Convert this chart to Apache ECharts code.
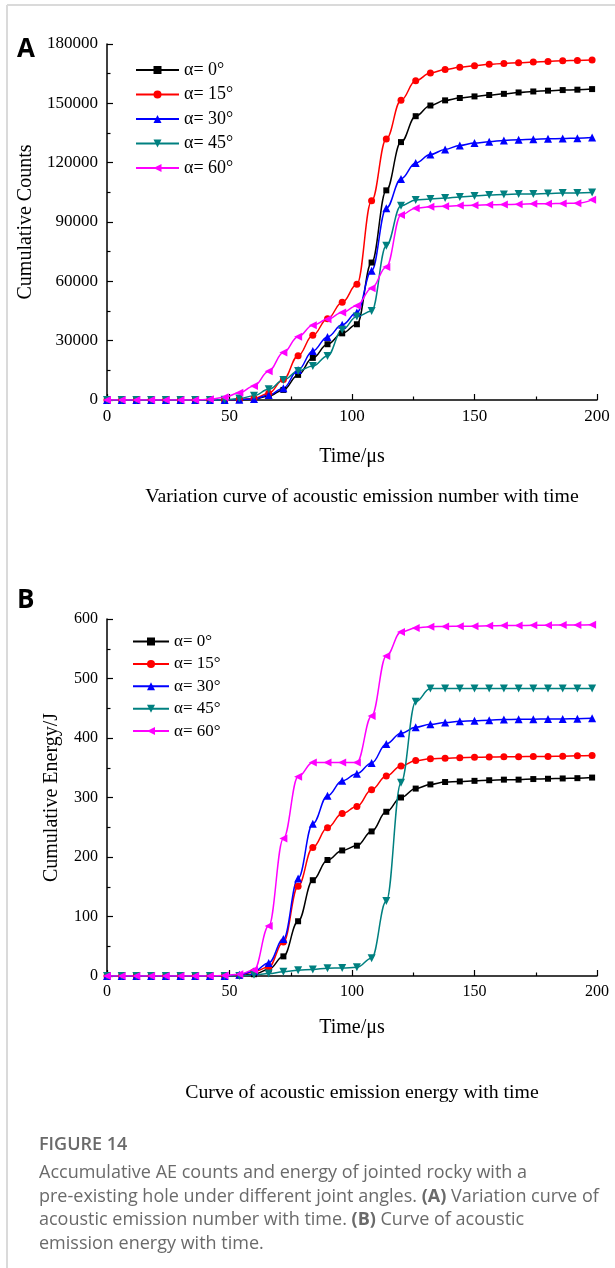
<!DOCTYPE html>
<html>
<head>
<meta charset="utf-8">
<script src="https://cdn.jsdelivr.net/npm/echarts@6/dist/echarts.min.js"></script>
<style>
  * { margin: 0; padding: 0; }
  body { background: #fff; }
  #chart { width: 615px; height: 1268px; }
</style>
</head>
<body>
<div id="chart"></div>
<script>
// sample times (μs), one marker every 6 μs
const times = [0, 6, 12, 18, 24, 30, 36, 42, 48, 54, 60, 66, 72, 78, 84, 90, 96,
  102, 108, 114, 120, 126, 132, 138, 144, 150, 156, 162, 168, 174, 180, 186, 192, 198];

const angleNames = ['α= 0°', 'α= 15°', 'α= 30°', 'α= 45°', 'α= 60°'];

// (A) cumulative counts
const counts0 = [0, 0, 0, 0, 0, 0, 0, 0, 0, 150, 400, 2000, 5100, 12700, 21300, 28200, 33700,
  38300, 69500, 106000, 130400, 143500, 148900, 151500, 152700, 153500, 154200, 154800, 155500, 156000, 156400, 156700, 156900, 157200];
const counts15 = [0, 0, 0, 0, 0, 0, 0, 0, 0, 200, 800, 3400, 10400, 22400, 32700, 41100, 49400,
  58500, 100700, 132000, 151600, 161400, 165300, 167100, 168200, 169000, 169700, 170200, 170500, 170900, 171200, 171500, 171700, 171900];
const counts30 = [0, 0, 0, 0, 0, 0, 0, 0, 0, 150, 500, 2500, 6000, 15200, 24800, 31900, 38000,
  44200, 65400, 97000, 111800, 119800, 124100, 126700, 128700, 129900, 130600, 131200, 131600, 131900, 132100, 132200, 132400, 132700];
const counts45 = [0, 0, 0, 0, 0, 0, 0, 0, 100, 700, 2200, 5400, 10100, 14700, 17200, 22300, 35500,
  42200, 45000, 78000, 98200, 101100, 101600, 102100, 102700, 103200, 103600, 103900, 104100, 104200, 104400, 104600, 104700, 104900];
const counts60 = [0, 0, 0, 0, 0, 0, 0, 350, 1350, 3700, 7100, 14500, 24000, 32000, 37800, 40800, 44200,
  47700, 56500, 67300, 93600, 97000, 97700, 98000, 98300, 98500, 98700, 98800, 99000, 99200, 99200, 99400, 99500, 101200];

// (B) cumulative energy, J
const energy0 = [0, 0, 0, 0, 0, 0, 0, 0, 0, 1, 3, 11, 33, 92, 161, 195, 211,
  219, 243, 276, 300, 315, 322, 326, 327, 328, 329, 330, 330, 331, 331.5, 332, 332.5, 333.5];
const energy15 = [0, 0, 0, 0, 0, 0, 0, 0, 0, 1, 7, 15, 57, 151, 216, 249, 273,
  285, 313, 336, 353, 362, 365, 366, 367, 367.5, 368, 368.5, 368.5, 369, 369, 369.5, 370, 370.5];
const energy30 = [0, 0, 0, 0, 0, 0, 0, 0, 0, 2, 8, 22, 62, 164, 256, 303, 328,
  340, 358, 390, 408, 418, 423, 426, 428, 429, 430, 431, 431.5, 431.5, 432, 432, 432.5, 433];
const energy45 = [0, 0, 0, 0, 0, 0, 0, 0, 0, 0, 2, 4, 7, 9.6, 11, 13, 13.5,
  14.6, 30, 126, 325, 461, 483, 483, 483, 483, 483, 483, 483, 483, 483, 483, 483, 483];
const energy60 = [0, 0, 0, 0, 0, 0, 0, 0, 1, 3, 10, 84, 231, 335, 359, 359, 359,
  359, 437, 538, 578, 585, 587, 587.5, 588, 588, 588.5, 589, 589, 589.5, 589.5, 590, 590, 590.5];

const xTicks = [0, 50, 100, 150, 200];
const countTicks = [0, 30000, 60000, 90000, 120000, 150000, 180000];
const energyTicks = [0, 100, 200, 300, 400, 500, 600];

const colors = ['#000000', '#ff0000', '#0000ff', '#008080', '#ff00ff'];
const symbols = ['rect', 'circle', 'triangle', 'triangle', 'triangle'];
const symbolSizes = [6, 7, 8, 8, 8];
const symbolRotates = [0, 0, 0, 180, 90];

const serif = '"Liberation Serif", "Times New Roman", serif';

function pairs(vals) {
  return times.map((t, i) => [t, vals[i]]);
}

function makeSeries(list, gridIdx) {
  return list.map((vals, i) => ({
    name: angleNames[i],
    type: 'line',
    xAxisIndex: gridIdx,
    yAxisIndex: gridIdx,
    data: pairs(vals),
    smooth: 0.4,
    smoothMonotone: 'x',
    symbol: symbols[i],
    symbolSize: symbolSizes[i],
    symbolRotate: symbolRotates[i],
    showAllSymbol: true,
    color: colors[i],
    lineStyle: { width: 1.5, color: colors[i] },
    itemStyle: { color: colors[i] },
    animation: false
  }));
}

function makeXAxis(gridIdx, gap, fs) {
  return {
    type: 'value',
    gridIndex: gridIdx,
    min: xTicks[0],
    max: xTicks[xTicks.length - 1],
    interval: 50,
    name: 'Time/μs',
    nameLocation: 'middle',
    nameGap: gap,
    nameTextStyle: { fontFamily: serif, fontSize: 20, color: '#000' },
    axisLine: { lineStyle: { color: '#000', width: 1.5 } },
    axisTick: { inside: true, length: 6, lineStyle: { color: '#000', width: 1.2 } },
    minorTick: { show: true, splitNumber: 2, length: 3.5, lineStyle: { color: '#000', width: 1.2 } },
    splitLine: { show: false },
    axisLabel: { fontFamily: serif, fontSize: fs, color: '#000', margin: 8 }
  };
}

function makeYAxis(gridIdx, ticks, name, gap, fs) {
  return {
    type: 'value',
    gridIndex: gridIdx,
    min: ticks[0],
    max: ticks[ticks.length - 1],
    interval: ticks[1] - ticks[0],
    name: name,
    nameLocation: 'middle',
    nameGap: gap,
    nameRotate: 90,
    nameTextStyle: { fontFamily: serif, fontSize: 20, color: '#000' },
    axisLine: { show: true, lineStyle: { color: '#000', width: 1.5 } },
    axisTick: { show: true, inside: true, length: 6, lineStyle: { color: '#000', width: 1.2 } },
    minorTick: { show: true, splitNumber: 2, length: 3.5, lineStyle: { color: '#000', width: 1.2 } },
    splitLine: { show: false },
    axisLabel: {
      fontFamily: serif, fontSize: fs, color: '#000', margin: 9,
      formatter: (v) => String(v)
    }
  };
}

const chart = echarts.init(document.getElementById('chart'));

const greyText = '#6a6a6a';
const sans = '"Open Sans", "Noto Sans", sans-serif';

chart.setOption({
  backgroundColor: '#fff',
  animation: false,
  grid: [
    { left: 107, top: 44, width: 490, height: 356 },
    { left: 107, top: 619, width: 490, height: 357 }
  ],
  xAxis: [makeXAxis(0, 47, 17), makeXAxis(1, 42, 16)],
  yAxis: [
    makeYAxis(0, countTicks, 'Cumulative Counts', 68, 17),
    makeYAxis(1, energyTicks, 'Cumulative Energy/J', 45, 16)
  ],
  legend: [
    {
      orient: 'vertical', left: 130, top: 56,
      itemWidth: 43, itemHeight: 10, itemGap: 6.5,
      textStyle: { fontFamily: serif, fontSize: 18, color: '#000' },
      data: angleNames
    },
    {
      orient: 'vertical', left: 127, top: 628,
      itemWidth: 36, itemHeight: 10, itemGap: 5.4,
      textStyle: { fontFamily: serif, fontSize: 17, color: '#000' },
      data: angleNames
    }
  ],
  series: makeSeries([counts0, counts15, counts30, counts45, counts60], 0)
    .concat(makeSeries([energy0, energy15, energy30, energy45, energy60], 1)),
  graphic: [
    // figure frame
    { type: 'line', shape: { x1: 7, y1: 5, x2: 615, y2: 5 }, style: { stroke: '#dadada', lineWidth: 2 } },
    { type: 'line', shape: { x1: 7, y1: 5, x2: 7, y2: 1268 }, style: { stroke: '#dadada', lineWidth: 2 } },
    // panel letters
    { type: 'text', left: 17, top: 37, style: { text: 'A', fontFamily: sans, fontWeight: 'bold', fontSize: 26, fill: '#000' } },
    { type: 'text', left: 17, top: 588, style: { text: 'B', fontFamily: sans, fontWeight: 'bold', fontSize: 26, fill: '#000' } },
    // panel captions
    { type: 'text', x: 362, y: 497, style: { text: 'Variation curve of acoustic emission number with time', fontFamily: serif, fontSize: 19.8, fill: '#000', align: 'center', verticalAlign: 'middle' } },
    { type: 'text', x: 362, y: 1093, style: { text: 'Curve of acoustic emission energy with time', fontFamily: serif, fontSize: 19.8, fill: '#000', align: 'center', verticalAlign: 'middle' } },
    // figure caption
    { type: 'text', x: 39, y: 1145, style: { text: 'FIGURE 14', fontFamily: sans, fontWeight: 600, fontSize: 18, fill: greyText, verticalAlign: 'middle' } },
    {
      type: 'text', x: 39, y: 1161,
      style: {
        text: 'Accumulative AE counts and energy of jointed rocky with a\n' +
          'pre-existing hole under different joint angles. {b|(A)} Variation curve of\n' +
          'acoustic emission number with time. {b|(B)} Curve of acoustic\n' +
          'emission energy with time.',
        fontFamily: sans, fontSize: 18, fill: greyText, lineHeight: 23.6,
        rich: { b: { fontFamily: sans, fontSize: 18, fontWeight: 'bold', fill: greyText, lineHeight: 23.6 } }
      }
    }
  ]
});
</script>
</body>
</html>
